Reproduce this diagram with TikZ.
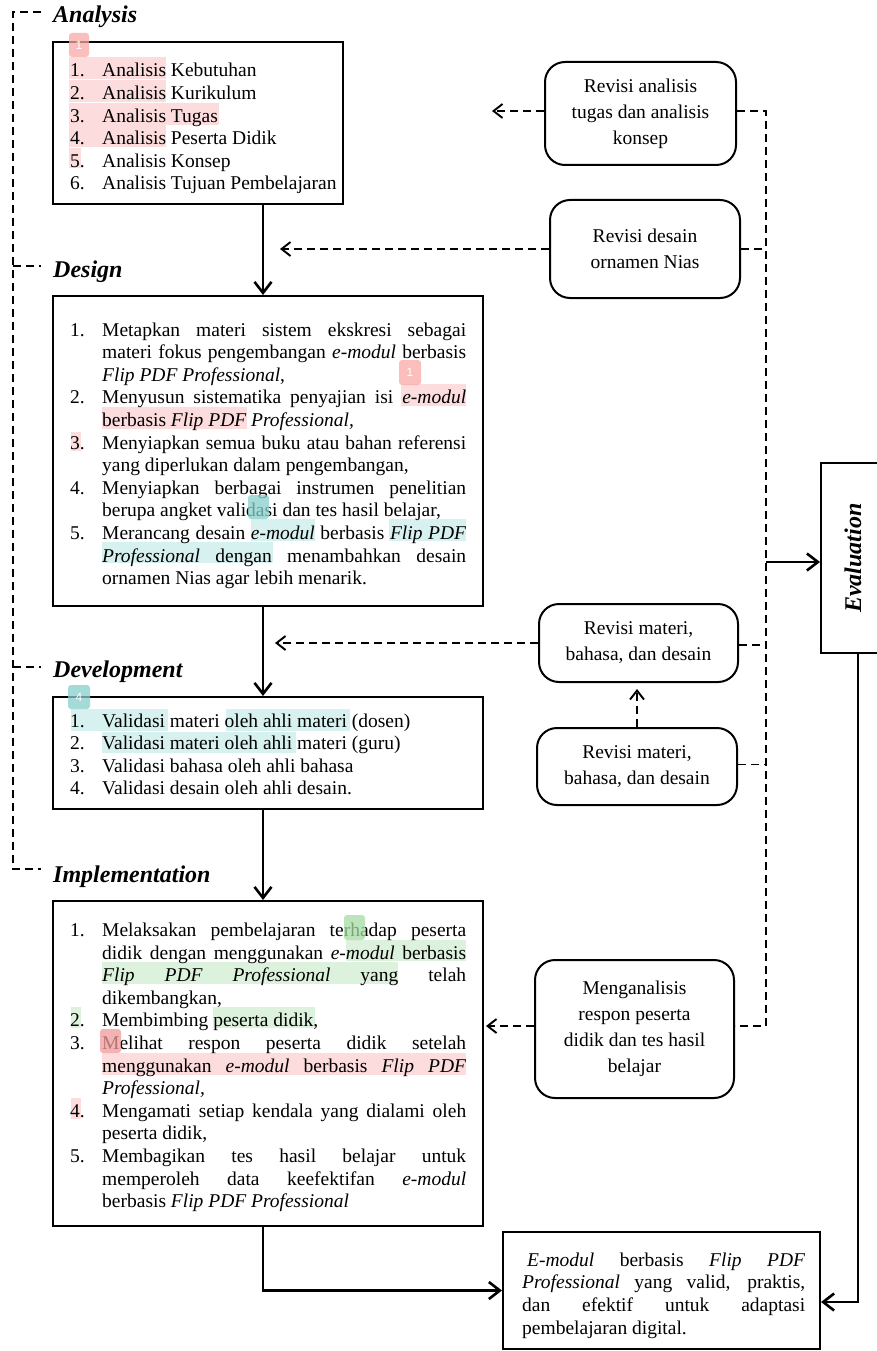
\documentclass[tikz,border=0pt]{standalone}
\usepackage{fontspec}
\setmainfont{Liberation Serif}
\newfontfamily\tagfont{Liberation Sans}
\usetikzlibrary{arrows.meta,calc}
\tolerance=9999
\hyphenpenalty=10000
\exhyphenpenalty=10000
\definecolor{hlpink}{HTML}{FCDCDD}
\definecolor{hlcyan}{HTML}{D6F1EF}
\definecolor{hlgreen}{HTML}{DDF2DC}
\definecolor{tagpink}{HTML}{F9A9A6}
\definecolor{tagcyan}{HTML}{86D0CB}
\definecolor{taggreen}{HTML}{A6DCA4}
\definecolor{tagred}{HTML}{F09A9A}
\newcommand\itm[2]{\par\noindent\hangindent=32pt\hangafter=1\makebox[32pt][l]{\strut#1}#2\par}
\begin{document}
\begin{tikzpicture}[x=1pt,y=-1pt,
  mainbox/.style={draw,line width=2pt,inner sep=0pt},
  revbox/.style={draw,line width=2pt,rounded corners=20pt,inner sep=0pt,align=center,
    font=\fontsize{19.5}{26}\selectfont},
  listtxt/.style={anchor=north west,inner sep=0pt,text width=396pt,align=justify,
    font=\fontsize{19.5}{22.6}\selectfont},
  phase/.style={anchor=base west,inner sep=0pt,font=\fontsize{24}{28}\selectfont\bfseries\itshape},
  solidarr/.style={line width=2.8pt,-{Straight Barb[length=11pt,width=17pt,line width=2.6pt]}},
  dsh/.style={line width=1.9pt,dash pattern=on 8pt off 5pt},
  dsharr/.style={dsh,-{Straight Barb[length=9pt,width=14pt,line width=1.9pt]}},
  tagbox/.style={rounded corners=3pt,fill opacity=0.75},
  tagnum/.style={text=white,font=\tagfont\fontsize{12}{12}\selectfont,inner sep=0pt}
]
\useasboundingbox (0,0) rectangle (877,1351);
\fill[white] (0,0) rectangle (877,1351);

% ---------- highlights (behind text)
\fill[hlpink] (69,57) rectangle (166,79);
\fill[hlpink] (69,80) rectangle (166,102);
\fill[hlpink] (69,103) rectangle (219,125);
\fill[hlpink] (69,125) rectangle (166,147);
\fill[hlpink] (69,148) rectangle (81,168);
\fill[hlpink] (401,384) rectangle (466,406);
\fill[hlpink] (102,407) rectangle (247,429);
\fill[hlpink] (71,432) rectangle (81,451);
\fill[hlcyan] (251,519) rectangle (315,541);
\fill[hlcyan] (389,519) rectangle (466,541);
\fill[hlcyan] (102,542) rectangle (273,563);
\fill[hlcyan] (71,709) rectangle (168,731);
\fill[hlcyan] (226,709) rectangle (350,731);
\fill[hlcyan] (102,732) rectangle (296,753);
\fill[hlgreen] (346,940) rectangle (466,961);
\fill[hlgreen] (102,962) rectangle (398,984);
\fill[hlgreen] (71,1007) rectangle (81,1028);
\fill[hlgreen] (213,1007) rectangle (315,1028);
\fill[hlpink] (102,1053) rectangle (466,1075);
\fill[hlpink] (71,1098) rectangle (81,1119);

% ---------- main boxes
\node[mainbox,minimum width=290pt,minimum height=162pt] (ana) at (198,123) {};
\node[mainbox,minimum width=430pt,minimum height=310pt] (des) at (268,451) {};
\node[mainbox,minimum width=430pt,minimum height=112pt] (dev) at (268,753) {};
\node[mainbox,minimum width=430pt,minimum height=325pt] (imp) at (268,1063.5) {};
\node[mainbox,minimum width=317pt,minimum height=117pt] (out) at (661.5,1290.5) {};
\node[mainbox,minimum width=64pt,minimum height=190pt] (ev) at (853,558) {};
\node[rotate=90,inner sep=0pt,font=\fontsize{24}{28}\selectfont\bfseries\itshape] (evtxt) at (853,558) {Evaluation};

% ---------- phase labels
\node[phase] (lana) at (53,23) {Analysis};
\node[phase] (ldes) at (53,277) {Design};
\node[phase] (ldev) at (53,677) {Development};
\node[phase] (limp) at (53,882) {Implementation};

% ---------- box texts
\node[listtxt] (anatxt) at (70,54.2) {%
\itm{1.}{Analisis Kebutuhan}%
\itm{2.}{Analisis Kurikulum}%
\itm{3.}{Analisis Tugas}%
\itm{4.}{Analisis Peserta Didik}%
\itm{5.}{Analisis Konsep}%
\itm{6.}{Analisis Tujuan Pembelajaran}};

\node[listtxt] (destxt) at (70,313.2) {%
\itm{1.}{Metapkan materi sistem ekskresi sebagai\linebreak materi fokus pengembangan \emph{e-modul} berbasis\linebreak \emph{Flip PDF Professional},}%
\itm{2.}{Menyusun sistematika penyajian isi \emph{e-modul}\linebreak berbasis \emph{Flip PDF Professional,}}%
\itm{3.}{Menyiapkan semua buku atau bahan referensi\linebreak yang diperlukan dalam pengembangan,}%
\itm{4.}{Menyiapkan berbagai instrumen penelitian\linebreak berupa angket validasi dan tes hasil belajar,}%
\itm{5.}{Merancang desain \emph{e-modul} berbasis \emph{Flip PDF}\linebreak \emph{Professional} dengan menambahkan desain\linebreak ornamen Nias agar lebih menarik.}};

\node[listtxt] (devtxt) at (70,704.2) {%
\itm{1.}{Validasi materi oleh ahli materi (dosen)}%
\itm{2.}{Validasi materi oleh ahli materi (guru)}%
\itm{3.}{Validasi bahasa oleh ahli bahasa}%
\itm{4.}{Validasi desain oleh ahli desain.}};

\node[listtxt] (imptxt) at (70,913.7) {%
\itm{1.}{Melaksakan pembelajaran terhadap peserta\linebreak didik dengan menggunakan \emph{e-modul} berbasis\linebreak \emph{Flip PDF Professional} yang telah\linebreak dikembangkan,}%
\itm{2.}{Membimbing peserta didik,}%
\itm{3.}{Melihat respon peserta didik setelah\linebreak menggunakan \emph{e-modul} berbasis \emph{Flip PDF}\linebreak \emph{Professional,}}%
\itm{4.}{Mengamati setiap kendala yang dialami oleh\linebreak peserta didik,}%
\itm{5.}{Membagikan tes hasil belajar untuk\linebreak memperoleh data keefektifan \emph{e-modul}\linebreak berbasis \emph{Flip PDF Professional}}};

\node[listtxt,text width=283pt] (outtxt) at (522,1250.2) {%
\noindent\strut\hspace*{5pt}\emph{E-modul} berbasis \emph{Flip PDF}\linebreak \emph{Professional} yang valid, praktis,\linebreak dan efektif untuk adaptasi\linebreak pembelajaran digital.\par};

% ---------- revision boxes
\node[revbox,minimum width=191pt,minimum height=103pt] (r1) at (640.5,113.5) {Revisi analisis\\tugas dan analisis\\konsep};
\node[revbox,minimum width=190pt,minimum height=98pt] (r2) at (645,249) {Revisi desain\\ornamen Nias};
\node[revbox,minimum width=199pt,minimum height=78pt] (r3) at (638.5,643) {Revisi materi,\\bahasa, dan desain};
\node[revbox,minimum width=200pt,minimum height=77pt] (r4) at (637,766.5) {Revisi materi,\\bahasa, dan desain};
\node[revbox,minimum width=199pt,minimum height=138pt] (r5) at (634.5,1029) {Menganalisis\\respon peserta\\didik dan tes hasil\\belajar};

% ---------- tags (annotation marks)
\fill[tagpink,tagbox] (69,33) rectangle (89,57);
\node[tagnum] (tg1) at (79,45) {1};
\fill[tagpink,tagbox] (399,360) rectangle (421,385);
\node[tagnum] (tg2) at (410,372.5) {1};
\fill[tagcyan,tagbox] (248,495) rectangle (269,519);
\fill[tagcyan,tagbox] (68,685) rectangle (90,709);
\node[tagnum] (tg4) at (79,697) {4};
\fill[taggreen,tagbox] (344,915) rectangle (365,940);
\fill[tagred,tagbox] (100,1029) rectangle (121,1053);

% ---------- coordinates
\coordinate (sp) at (263,0);
\coordinate (bus) at (766,0);
\coordinate (ex) at (858,0);
\coordinate (t1) at (492,111);
\coordinate (t2) at (280,249);
\coordinate (t3) at (275,643);
\coordinate (t5) at (486,1026);
\coordinate (evin) at ([yshift=-4pt]ev.west);

% ---------- left dashed frame
\draw[dsh] ([shift={(-12pt,11pt)}]lana.base west) -| ([shift={(-40pt,13pt)}]limp.base west) -- ([shift={(-12pt,13pt)}]limp.base west);
\draw[dsh] ([shift={(-40pt,11pt)}]ldes.base west) -- ([shift={(-12pt,11pt)}]ldes.base west);
\draw[dsh] ([shift={(-40pt,10pt)}]ldev.base west) -- ([shift={(-12pt,10pt)}]ldev.base west);

% ---------- main flow
\draw[solidarr] (ana.south -| sp) -- (des.north -| sp);
\draw[solidarr] (des.south -| sp) -- (dev.north -| sp);
\draw[solidarr] (dev.south -| sp) -- (imp.north -| sp);
\draw[solidarr] (imp.south -| sp) |- (out.west);
\draw[solidarr] (ev.south -| ex) |- ([yshift=-11.5pt]out.east);

% ---------- revision feedback
\draw[dsharr] (r1.west |- t1) -- (t1);
\draw[dsharr] (r2.west) -- (t2);
\draw[dsharr] (r3.west) -- (t3);
\draw[dsharr] (r5.west |- t5) -- (t5);
\draw[dsharr,shorten >=6pt] (r4.north) -- (r4.north |- r3.south);

% ---------- bus to evaluation
\draw[dsh] (r1.east |- t1) -- (t1 -| bus) -- (t5 -| bus) -- (r5.east |- t5);
\draw[dsh] (r2.east) -- (r2.east -| bus);
\draw[dsh] ([yshift=-2pt]r3.east) -- ([yshift=-2pt]r3.east -| bus);
\draw[dsh] ([yshift=2pt]r4.east) -- ([yshift=2pt]r4.east -| bus);
\draw[solidarr] (evin -| bus) -- (evin);
\end{tikzpicture}
\end{document}
